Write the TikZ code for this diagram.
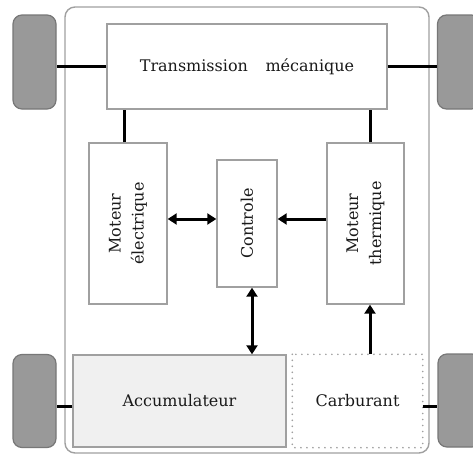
\documentclass[tikz,border=0pt]{standalone}
\usepackage{fontspec}
\setmainfont{DejaVu Serif}
\usetikzlibrary{arrows.meta}
\definecolor{boxgray}{HTML}{A0A0A0}
\definecolor{wheelfill}{HTML}{999999}
\definecolor{wheeldraw}{HTML}{777777}
\definecolor{accfill}{HTML}{F0F0F0}
\definecolor{txt}{HTML}{1A1A1A}
\tikzset{
  blockbox/.style={draw=boxgray, line width=1.4pt, fill=white, rectangle, inner sep=0pt, text=txt, font=\fontsize{16}{23}\selectfont, align=center},
  wheelbox/.style={draw=wheeldraw, fill=wheelfill, line width=1.2pt, rounded corners=9pt, rectangle, inner sep=0pt},
  shaft/.style={line width=3pt, black},
  conn/.style={line width=3pt, black, -{Triangle[length=9pt,width=11pt]}},
  dconn/.style={line width=3pt, black, {Triangle[length=9pt,width=11pt]}-{Triangle[length=9pt,width=11pt]}},
}
\begin{document}
\begin{tikzpicture}[x=1pt,y=-1pt]
\clip (0,0) rectangle (473,455);
\useasboundingbox (0,0) rectangle (473,455);
\fill[white] (0,0) rectangle (473,455);
% outer frame
\draw[boxgray, line width=1.4pt, rounded corners=10pt] (65,7) rectangle (429,453);
% wheels
\node[wheelbox, minimum width=43pt, minimum height=94pt] (LT) at (34.5,62) {};
\node[wheelbox, minimum width=43pt, minimum height=94pt] (RT) at (459,62) {};
\node[wheelbox, minimum width=43pt, minimum height=93pt] (LB) at (34.5,401) {};
\node[wheelbox, minimum width=43pt, minimum height=93pt] (RB) at (459.5,400.5) {};
% blocks
\node[blockbox, minimum width=280pt, minimum height=85pt] (trans) at (247,66.5) {Transmission\hspace{1.1em}mécanique};
\node[blockbox, minimum width=78pt, minimum height=161pt] (ME) at (128,223.5) {};
\node[rotate=90, text=txt, font=\fontsize{16}{23}\selectfont, align=center] (MEt) at (ME.center) {Moteur\\électrique};
\node[blockbox, minimum width=60pt, minimum height=127pt] (ctrl) at (247,223.5) {};
\node[rotate=90, text=txt, font=\fontsize{16}{23}\selectfont] (ctrlt) at (ctrl.center) {Controle};
\node[blockbox, minimum width=77pt, minimum height=161pt] (MT) at (365.5,223.5) {};
\node[rotate=90, text=txt, font=\fontsize{16}{23}\selectfont, align=center] (MTt) at (MT.center) {Moteur\\thermique};
\node[blockbox, fill=accfill, minimum width=213pt, minimum height=92pt] (acc) at (179.5,401) {Accumulateur};
\node[blockbox, draw=none, minimum width=129pt, minimum height=92pt] (carb) at (357.5,401) {Carburant};
\draw[boxgray, line width=1.8pt, line cap=round, dash pattern=on 0pt off 6pt] (carb.north west) rectangle (carb.south east);
% shafts
\draw[shaft] (trans.west) -- (trans.west -| LT.east);
\draw[shaft] (trans.east) -- (trans.east -| RT.west);
\draw[shaft] ([yshift=-5pt]acc.west) -- ([yshift=-5pt]acc.west -| LB.east);
\draw[shaft] ([yshift=-5pt]carb.east) -- ([yshift=-5pt]carb.east -| RB.west);
\draw[shaft] ([xshift=-4pt]ME.north) -- ([xshift=-4pt]ME.north |- trans.south);
\draw[shaft] ([xshift=4.5pt]MT.north) -- ([xshift=4.5pt]MT.north |- trans.south);
% arrows
\draw[dconn] ([yshift=4.5pt]ME.east) -- ([yshift=4.5pt]ctrl.west);
\draw[conn] ([yshift=4.5pt]MT.west) -- ([yshift=4.5pt]ctrl.west -| ctrl.east);
\draw[dconn] ([xshift=5pt]ctrl.south) -- ([xshift=5pt]ctrl.south |- acc.north);
\draw[conn] ([xshift=12.5pt]carb.north) -- ([xshift=12.5pt]carb.north |- MT.south);
\end{tikzpicture}
\end{document}
